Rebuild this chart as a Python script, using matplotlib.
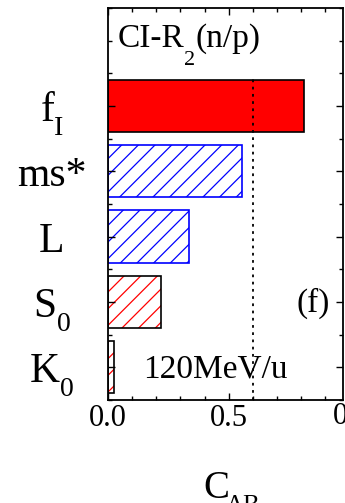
import matplotlib
matplotlib.use("Agg")
import matplotlib.pyplot as plt
from matplotlib.ticker import MultipleLocator

# data, top to bottom in the picture
label_main = ["f", "ms*", "L", "S", "K"]
label_sub = ["I", "", "", "0", "0"]
values = [0.81, 0.555, 0.335, 0.22, 0.025]
faces = ["red", "white", "white", "white", "white"]
edges = ["black", "blue", "blue", "black", "black"]
hatch_colors = ["black", "blue", "blue", "red", "red"]
hatches = [None, "//", "//", "//", "//"]
threshold = 0.6

plt.rcParams["font.family"] = ["Liberation Serif", "DejaVu Serif"]
plt.rcParams["hatch.linewidth"] = 0.9

fig = plt.figure(figsize=(3.45, 5.03), dpi=100)
ax = fig.add_axes([0.313, 0.205, 0.68, 0.779])

ypos = list(range(len(label_main)))[::-1]
for y, v, fc, ec, hc, h in zip(ypos, values, faces, edges, hatch_colors, hatches):
    if h:
        plt.rcParams["hatch.color"] = hc
        ax.barh(y, v, height=0.8, color=fc, hatch=h, edgecolor=hc, linewidth=0)
        ax.barh(y, v, height=0.8, fill=False, edgecolor=ec, linewidth=1.2)
    else:
        ax.barh(y, v, height=0.8, color=fc, edgecolor=ec, linewidth=1.2)

ax.axvline(threshold, ymin=0, ymax=0.825, color="black", linestyle=(0, (1.5, 2.5)), linewidth=1.3)

ax.set_xlim(0, 0.971)
ax.set_ylim(-0.5, 5.5)
ax.set_yticks(ypos)
ax.set_yticklabels([])
ax.yaxis.set_minor_locator(MultipleLocator(0.5))
ax.xaxis.set_minor_locator(MultipleLocator(0.1))
ax.set_xticks([0.0, 0.5])
ax.set_xticklabels(["0.0", "0.5"], fontsize=22)
ax.tick_params(which="both", direction="in", top=True, right=True, width=1)
ax.tick_params(which="major", length=5)
ax.tick_params(which="minor", length=3)
ax.tick_params(axis="x", pad=3)
for s in ax.spines.values():
    s.set_linewidth(1.3)

px = 6.0 / (0.779 * 503)  # data units per pixel along y


def sub_text(parent, text, y_base, size, drop, transform_y="data"):
    # small text hung below the baseline, right after the parent text
    return ax.annotate(text, xy=(1, y_base), xycoords=(parent, transform_y),
                       xytext=(0, -drop), textcoords="offset points",
                       fontsize=size, va="baseline", ha="left")


# category labels, centred left of the axis
fig.canvas.draw()
renderer = fig.canvas.get_renderer()
for y, m, s in zip(ypos, label_main, label_sub):
    yb = y - 15 * px
    t = ax.text(-0.23, yb, m, fontsize=30, ha="center", va="baseline")
    parts = [t]
    if s:
        parts.append(sub_text(t, s, yb, 20, 10))
    fig.canvas.draw()
    x0 = min(p.get_window_extent(renderer).x0 for p in parts)
    x1 = max(p.get_window_extent(renderer).x1 for p in parts)
    shift = 52 - (x0 + x1) / 2
    disp = ax.transData.transform((-0.23, yb))
    t.set_x(ax.transData.inverted().transform((disp[0] + shift, disp[1]))[0])

yb = 5.5 - 39 * px
t = ax.text(0.04, yb, "CI-R", fontsize=24, va="baseline", ha="left")
s2 = sub_text(t, "2", yb, 16, 13)
ax.annotate("(n/p)", xy=(1, yb), xycoords=(s2, "data"), fontsize=24, va="baseline", ha="left")

ax.text(0.78, 0.98, "(f)", fontsize=24, va="center", ha="left")
ax.text(0.145, 5.5 - 369 * px, "120MeV/u", fontsize=24, va="baseline", ha="left")

fig.text(352 / 345, 1 - 417 / 503, "0.0", fontsize=22, ha="center", va="center")
c = fig.text(203 / 345, 1 - 498 / 503, "C", fontsize=28, ha="left", va="baseline")
fig.text(226 / 345, 1 - 512 / 503, "AB", fontsize=18, ha="left", va="baseline")

fig.savefig("out.png", dpi=100)
